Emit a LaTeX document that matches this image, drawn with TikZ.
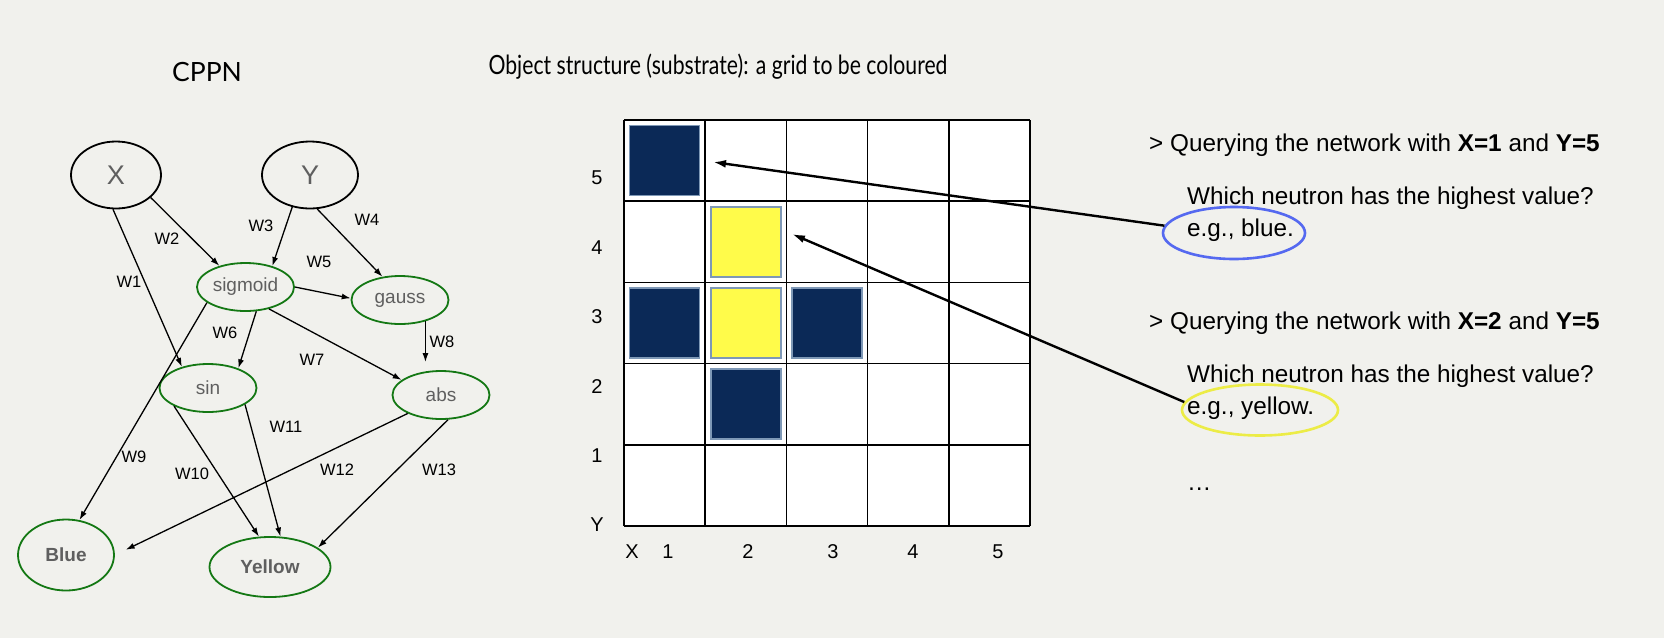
\documentclass[tikz,border=0pt]{standalone}
\usepackage{fontspec}
\usepackage{graphicx}
\setmainfont{Liberation Sans}
\newfontfamily\titlefont{Lato}
\usetikzlibrary{shapes.geometric,arrows.meta}

\definecolor{paper}{RGB}{241,241,237}
\definecolor{navy}{RGB}{11,41,87}
\definecolor{cellyellow}{RGB}{255,251,74}
\definecolor{cellrim}{RGB}{126,152,182}
\definecolor{nodegreen}{RGB}{20,120,20}
\definecolor{labelgray}{RGB}{95,95,95}
\definecolor{ringblue}{RGB}{85,105,240}
\definecolor{ringyellow}{RGB}{236,236,70}

\tikzset{
  inout/.style={ellipse, draw=black, line width=1.8pt, inner sep=0pt,
    minimum height=67pt, text=labelgray, font=\fontsize{27}{30}\selectfont},
  func/.style={ellipse, draw=nodegreen, line width=1.8pt, inner sep=0pt,
    minimum width=97pt, minimum height=48pt, text=labelgray,
    font=\fontsize{19}{22}\selectfont},
  outnode/.style={func, font=\fontsize{19}{22}\selectfont\bfseries},
  wire/.style={line width=1.3pt, -{Latex[length=9pt,width=6pt]}},
  wlabel/.style={inner sep=0pt, font=\fontsize{16.5}{18}\selectfont},
  axislabel/.style={inner sep=0pt, font=\fontsize{20}{22}\selectfont},
  cellbox/.style={draw=cellrim, line width=1.6pt, minimum size=70pt, inner sep=0pt},
  ring/.style={ellipse, line width=2.6pt, inner sep=0pt, minimum width=#1},
  pointer/.style={line width=2.4pt, -{Latex[length=13pt,width=8pt]}},
  qtext/.style={anchor=base west, inner sep=0pt, font=\fontsize{24.3}{28}\selectfont},
  title/.style={inner sep=0pt, font=\titlefont\fontsize{26.5}{30}\selectfont}
}

\begin{document}
\begin{tikzpicture}[x=1pt, y=-1pt]
  \fill[paper] (0,0) rectangle (1664,638);
  \useasboundingbox (0,0) rectangle (1664,638);

  % titles
  \node[title] (cppntitle) at (207,72) {CPPN};
  \node[title] (gridtitle) at (718,67) {\scalebox{0.8}[1]{Object structure (substrate): a grid to be coloured}};

  % CPPN
  \node[inout, minimum width=90pt] (X) at (116,175) {X};
  \node[inout, minimum width=96pt] (Y) at (310,175) {Y};
  \node[func] (sigmoid) at (245.5,287) {sigmoid};
  \node[func] (gauss) at (400,300) {gauss};
  \node[func] (sin) at (208,388) {sin};
  \node[func] (abs) at (441,395) {abs};
  \node[outnode, minimum width=96pt, minimum height=71pt] (Blue) at (66,555) {Blue};
  \node[outnode, minimum width=121pt, minimum height=60pt] (Yellow) at (270,567) {Yellow};

  \foreach \a/\b in {X.265/sin.141, X.327/sigmoid.141, Y.241/sigmoid.38,
      Y.282/gauss.127, sigmoid.0/gauss.178, sigmoid.294/sin.33,
      sigmoid.317/abs.159, sigmoid.202/Blue.69, sin.208/Yellow.110,
      sin.336/Yellow.71, abs.286/Yellow.22}
    \draw[wire] (\a) -- (\b);
  \draw[wire, shorten >=8pt] (gauss.320) -- (gauss.320 |- abs.north);
  \draw[wire, shorten >=12pt] (abs.209) -- (Blue.east);

  \foreach \w/\x/\y in {W1/129/282, W2/167/239, W3/261/226, W4/367/220,
      W5/319/262, W6/225/333, W7/312/360, W8/442/342, W9/134/457,
      W10/192/474, W11/286/427, W12/337/470, W13/439/470}
    \node[wlabel] (\w) at (\x,\y) {\w};

  % grid
  \fill[white] (624,120) rectangle (1030,526);
  \foreach \i in {0,...,5} {
    \draw[line width=1.5pt] ({624+81.2*\i},120) -- ({624+81.2*\i},526);
    \draw[line width=1.5pt] (624,{120+81.2*\i}) -- (1030,{120+81.2*\i});
  }
  \foreach \c/\r/\col in {1/5/navy, 2/4/cellyellow, 1/3/navy, 2/3/cellyellow,
      3/3/navy, 2/2/navy}
    \node[cellbox, fill=\col] (cell\c\r) at ({624+81.2*(\c-0.5)},{120+81.2*(5.5-\r)}) {};

  \foreach \n [count=\k] in {5,4,3,2,1,Y}
    \node[axislabel] (row\k) at (597,{178+69.4*(\k-1)}) {\n};
  \foreach \n/\x in {X/632, 1/668, 2/748, 3/833, 4/913, 5/998}
    \node[axislabel] (col\n) at (\x,552) {\n};

  % queries
  \node[qtext] (query1) at (1149,151) {> Querying the network with \textbf{X=1} and \textbf{Y=5}};
  \node[qtext] (ask1) at (1187,204) {Which neutron has the highest value?};
  \node[qtext] (answer1) at (1187,236) {e.g., blue.};
  \node[qtext] (query2) at (1149,329) {> Querying the network with \textbf{X=2} and \textbf{Y=5}};
  \node[qtext] (ask2) at (1187,382) {Which neutron has the highest value?};
  \node[qtext] (answer2) at (1187,414) {e.g., yellow.};
  \node[qtext] (more) at (1187,490) {\ldots};

  \node[ring=142pt, draw=ringblue, minimum height=52pt] (ringblue) at (1234,233) {};
  \node[ring=156pt, draw=ringyellow, minimum height=51pt] (ringyellow) at (1260,410) {};

  \coordinate (tip1) at (713,162);
  \coordinate (tip2) at (792,234);
  \draw[pointer] (ringblue.174) -- (tip1);
  \draw[pointer] (ringyellow.174) -- (tip2);
\end{tikzpicture}
\end{document}
